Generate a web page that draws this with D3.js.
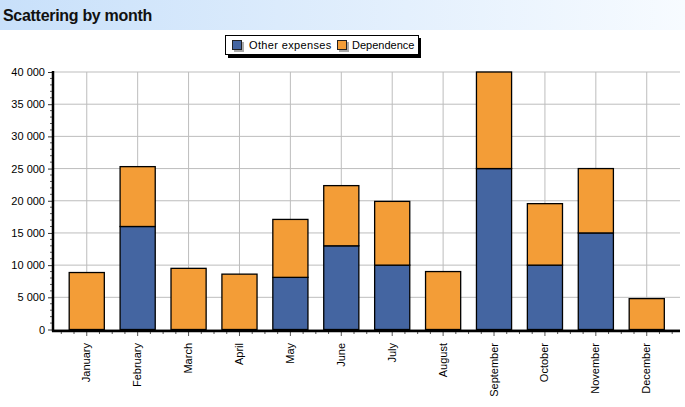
<!DOCTYPE html>
<html>
<head>
<meta charset="utf-8">
<script src="https://cdn.jsdelivr.net/npm/d3@7"></script>
<style>
  body { margin: 0; background: #fff; }
  svg { display: block; font-family: "Liberation Sans", Arial, sans-serif; }
</style>
</head>
<body>
<div id="chart"></div>
<script>
const months = ["January", "February", "March", "April", "May", "June",
    "July", "August", "September", "October", "November", "December"];
const otherExpenses = [0, 16000, 0, 0, 8100, 13000, 10000, 0, 25000, 10000, 15000, 0];
const dependence = [8850, 9300, 9500, 8600, 9000, 9350, 9900, 9000, 15000, 9550, 10000, 4800];
const seriesNames = ["Other expenses", "Dependence"];
const seriesColors = ["#4465a1", "#f39d37"];
const yTicks = [0, 5000, 10000, 15000, 20000, 25000, 30000, 35000, 40000];

const width = 685, height = 407;
const margin = { top: 72, right: 5, bottom: 78, left: 53 };

const data = months.map((m, i) => ({ name: m, other: otherExpenses[i], dep: dependence[i] }));
const stacked = d3.stack().keys(["other", "dep"])(data);

const svg = d3.select("#chart").append("svg")
    .attr("width", width)
    .attr("height", height);

// title band
const grad = svg.append("defs").append("linearGradient")
    .attr("id", "titleGrad");
grad.append("stop").attr("offset", "0%").attr("stop-color", "#c8e0fa");
grad.append("stop").attr("offset", "100%").attr("stop-color", "#f7fbff");
svg.append("rect")
    .attr("width", width).attr("height", 30)
    .attr("fill", "url(#titleGrad)");
svg.append("text")
    .attr("x", 3).attr("y", 21)
    .attr("font-size", 16).attr("font-weight", "bold")
    .attr("fill", "#111")
    .attr("letter-spacing", "-0.3")
    .text("Scattering by month");

const xScale = d3.scaleBand()
    .domain(months)
    .range([61.3, 672.2])
    .paddingInner(0.31)
    .paddingOuter(0.155);

const yScale = d3.scaleLinear()
    .domain([0, 40000])
    .range([329.5, 72]);

const fmt = d3.formatLocale({ decimal: ".", thousands: " ", grouping: [3], currency: ["", ""] }).format(",d");

const step = xScale.step();
const centers = months.map(m => xScale(m) + xScale.bandwidth() / 2);

// grid
svg.append("g")
    .selectAll("line")
    .data(yTicks)
    .join("line")
    .attr("x1", margin.left).attr("x2", 680)
    .attr("y1", d => yScale(d)).attr("y2", d => yScale(d))
    .attr("stroke", "#bdbdbd");

svg.append("g")
    .selectAll("line")
    .data(centers)
    .join("line")
    .attr("x1", d => d).attr("x2", d => d)
    .attr("y1", yScale(40000)).attr("y2", yScale(0))
    .attr("stroke", "#bdbdbd");

// bars
svg.append("g")
    .selectAll("g")
    .data(stacked)
    .join("g")
    .attr("fill", (d, i) => seriesColors[i])
    .selectAll("rect")
    .data(d => d.filter(v => v[1] > v[0]))
    .join("rect")
    .attr("x", d => xScale(d.data.name))
    .attr("y", d => yScale(d[1]))
    .attr("width", xScale.bandwidth())
    .attr("height", d => yScale(d[0]) - yScale(d[1]))
    .attr("stroke", "#000")
    .attr("stroke-width", 1.3);

// y axis
const yAxis = g => g
    .attr("transform", `translate(${margin.left},0)`)
    .call(d3.axisLeft(yScale).tickValues(yTicks).tickFormat(fmt).tickSize(5).tickPadding(3))
    .call(g => g.select(".domain").remove())
    .call(g => g.selectAll(".tick line").attr("stroke", "#333"))
    .call(g => g.selectAll("text").attr("font-size", 11).attr("fill", "#000")
        .attr("font-family", "Liberation Sans, Arial, sans-serif"));
svg.append("g").call(yAxis);

const minorY = d3.range(0, 40001, 1000).filter(v => v % 5000 !== 0);
svg.append("g")
    .selectAll("line")
    .data(minorY)
    .join("line")
    .attr("x1", margin.left - 3).attr("x2", margin.left)
    .attr("y1", d => yScale(d)).attr("y2", d => yScale(d))
    .attr("stroke", "#555");

svg.append("line")
    .attr("x1", margin.left).attr("x2", margin.left)
    .attr("y1", yScale(40000) - 1).attr("y2", yScale(0) + 2)
    .attr("stroke", "#000").attr("stroke-width", 2.5);

// x axis
const minorX = [];
months.forEach(m => {
    const c = xScale(m) + xScale.bandwidth() / 2;
    minorX.push(c - step / 2, c - step / 4, c + step / 4);
});
minorX.push(centers[11] + step / 2);
svg.append("g")
    .selectAll("line")
    .data(minorX)
    .join("line")
    .attr("x1", d => d).attr("x2", d => d)
    .attr("y1", 331).attr("y2", 334)
    .attr("stroke", "#555");

svg.append("g")
    .attr("transform", "translate(0,331)")
    .call(d3.axisBottom(xScale).tickSize(5).tickPadding(8))
    .call(g => g.select(".domain").remove())
    .call(g => g.selectAll(".tick line").attr("stroke", "#555"))
    .selectAll("text")
    .attr("font-size", 11)
    .attr("fill", "#000")
    .attr("font-family", "Liberation Sans, Arial, sans-serif")
    .attr("transform", "rotate(-90)")
    .attr("text-anchor", "end")
    .attr("dy", "0.32em")
    .attr("x", -12)
    .attr("y", 0);

svg.append("line")
    .attr("x1", margin.left - 1).attr("x2", 680)
    .attr("y1", 331).attr("y2", 331)
    .attr("stroke", "#000").attr("stroke-width", 2.5);

// legend
const legend = svg.append("g").attr("transform", "translate(225,35)");
legend.append("rect")
    .attr("x", 3).attr("y", 3).attr("width", 193).attr("height", 20)
    .attr("fill", "#000");
legend.append("rect")
    .attr("x", 0.5).attr("y", 0.5).attr("width", 193).attr("height", 19)
    .attr("fill", "#fff").attr("stroke", "#000");
const items = legend.selectAll("g.item")
    .data(seriesNames)
    .join("g")
    .attr("class", "item")
    .attr("transform", (d, i) => `translate(${i === 0 ? 7 : 112},0)`);
items.append("rect")
    .attr("x", 2).attr("y", 7).attr("width", 10).attr("height", 10)
    .attr("fill", "#aaa");
items.append("rect")
    .attr("x", 0.5).attr("y", 5.5).attr("width", 9).attr("height", 9)
    .attr("fill", (d, i) => seriesColors[i])
    .attr("stroke", "#222");
items.append("text")
    .attr("x", (d, i) => i === 0 ? 17 : 15).attr("y", 14)
    .attr("font-size", 11)
    .attr("fill", "#000")
    .attr("letter-spacing", (d, i) => i === 0 ? "0.35" : "0")
    .text(d => d);
</script>
</body>
</html>
